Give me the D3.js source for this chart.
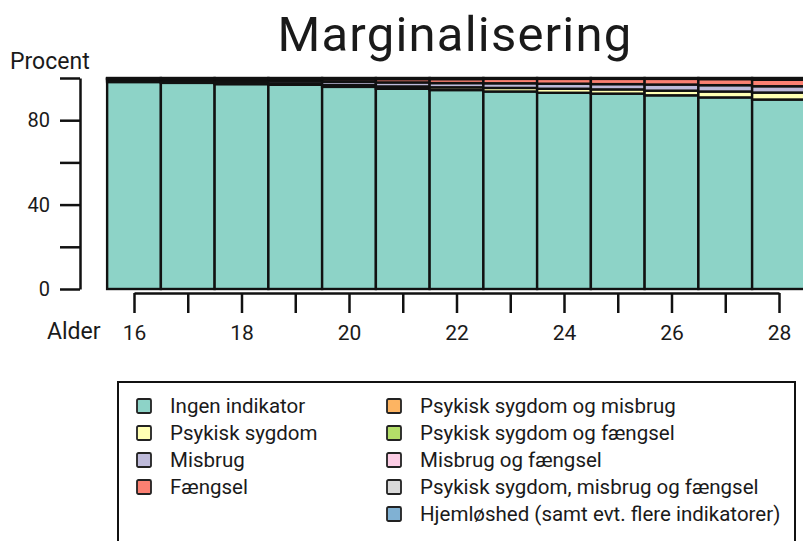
<!DOCTYPE html>
<html>
<head>
<meta charset="utf-8">
<script src="https://cdn.jsdelivr.net/npm/d3@7"></script>
<style>
body { margin: 0; background: #fff; }
svg { display: block; font-family: Roboto, "Noto Sans", sans-serif; }
.lbl { fill: #1a1a1a; }
</style>
</head>
<body>
<svg id="chart" width="803" height="541"></svg>
<script>
// alder 16-28, procent i hver gruppe
var ages = [16, 17, 18, 19, 20, 21, 22, 23, 24, 25, 26, 27, 28];
var ingen      = [98.1, 97.7, 97.1, 96.8, 95.8, 94.9, 94.3, 93.6, 93.0, 92.6, 91.8, 90.8, 89.8];
var psyk       = [0.4, 0.5, 0.6, 0.7, 0.9, 1.1, 1.3, 1.7, 1.9, 2.0, 2.2, 2.8, 3.3];
var misbrug    = [0.6, 0.8, 1.1, 1.2, 1.5, 1.9, 2.0, 2.2, 2.4, 2.5, 2.9, 3.0, 3.0];
var faengsel   = [0.3, 0.4, 0.6, 0.7, 1.2, 1.6, 1.9, 2.1, 2.3, 2.5, 2.7, 2.9, 3.1];
var psyk_mis   = [0.2, 0.2, 0.2, 0.2, 0.2, 0.1, 0.1, 0.1, 0.1, 0.1, 0.1, 0.1, 0.2];
var psyk_fae   = [0.1, 0.1, 0.1, 0.1, 0.1, 0.1, 0.1, 0.05, 0.05, 0.05, 0.05, 0.1, 0.1];
var mis_fae    = [0.1, 0.1, 0.1, 0.1, 0.1, 0.1, 0.1, 0.1, 0.1, 0.1, 0.1, 0.1, 0.2];
var alle_tre   = [0.1, 0.1, 0.1, 0.1, 0.1, 0.1, 0.1, 0.05, 0.05, 0.05, 0.05, 0.1, 0.1];
var hjemloes   = [0.1, 0.1, 0.1, 0.1, 0.1, 0.1, 0.1, 0.1, 0.1, 0.1, 0.1, 0.1, 0.2];

var categories = ["Ingen indikator", "Psykisk sygdom", "Misbrug", "Fængsel",
	"Psykisk sygdom og misbrug", "Psykisk sygdom og fængsel", "Misbrug og fængsel",
	"Psykisk sygdom, misbrug og fængsel", "Hjemløshed (samt evt. flere indikatorer)"];
var colors = ["#8dd3c7", "#ffffb3", "#bebada", "#fb8072", "#fdb462", "#b3de69", "#fccde5", "#d9d9d9", "#80b1d3"];
var yticks = [0, 20, 40, 60, 80, 100];
var ylabels = [0, 40, 80];
var xlabels = [16, 18, 20, 22, 24, 26, 28];

var series = [ingen, psyk, misbrug, faengsel, psyk_mis, psyk_fae, mis_fae, alle_tre, hjemloes];

var rows = ages.map(function(a, i) {
	var r = {age: a};
	categories.forEach(function(c, j) { r[c] = series[j][i]; });
	return r;
});

var svg = d3.select("#chart");

var step = (779 - 134) / 12;
var xpos = d3.scaleLinear().domain([16, 28]).range([134, 779]);
var xband = d3.scaleBand().domain(ages).range([134 - step/2, 779 + step/2]).padding(0);
var y = d3.scaleLinear().domain([0, 100]).range([289, 78]);
var color = d3.scaleOrdinal().domain(categories).range(colors);

var stacked = d3.stack().keys(categories)(rows);

// title
svg.append("text")
	.attr("class", "lbl")
	.attr("x", 455).attr("y", 51)
	.attr("text-anchor", "middle")
	.style("font-size", "49px")
	.style("letter-spacing", "1.2px")
	.text("Marginalisering");

// bars
var layer = svg.append("g").selectAll("g")
	.data(stacked).enter().append("g")
	.attr("fill", function(d) { return color(d.key); });

layer.selectAll("rect")
	.data(function(d) { return d; }).enter().append("rect")
	.attr("x", function(d) { return xband(d.data.age); })
	.attr("width", xband.bandwidth())
	.attr("y", function(d) { return y(d[1]); })
	.attr("height", function(d) { return y(d[0]) - y(d[1]); })
	.attr("stroke", "#111")
	.attr("stroke-width", 2.4);

// y axis
var yaxis = svg.append("g")
	.attr("transform", "translate(80,0)")
	.call(d3.axisLeft(y).tickValues(yticks).tickSize(20).tickSizeOuter(0).tickPadding(10)
		.tickFormat(function(d) { return ylabels.indexOf(d) >= 0 ? d : ""; }));
yaxis.selectAll("path, line").attr("stroke", "#111").attr("stroke-width", 2.5);
yaxis.selectAll("text").attr("class", "lbl").style("font-size", "20px").style("font-family", "Roboto");

svg.append("text")
	.attr("class", "lbl")
	.attr("x", 10).attr("y", 69)
	.style("font-size", "23px")
	.text("Procent");

// x axis
var xaxis = svg.append("g")
	.attr("transform", "translate(0,293)")
	.call(d3.axisBottom(xpos).tickValues(ages).tickSize(20).tickSizeOuter(0).tickPadding(12)
		.tickFormat(function(d) { return xlabels.indexOf(d) >= 0 ? d : ""; }));
xaxis.selectAll("path, line").attr("stroke", "#111").attr("stroke-width", 2.5);
xaxis.selectAll("text").attr("class", "lbl").style("font-size", "21px").style("font-family", "Roboto");

svg.append("text")
	.attr("class", "lbl")
	.attr("x", 47).attr("y", 339)
	.style("font-size", "23px")
	.text("Alder");

// legend
svg.append("rect")
	.attr("x", 118).attr("y", 382)
	.attr("width", 677).attr("height", 200)
	.attr("fill", "none")
	.attr("stroke", "#111")
	.attr("stroke-width", 2);

var leg = svg.append("g").selectAll("g")
	.data(categories).enter().append("g")
	.attr("transform", function(d, i) {
		var col = i < 4 ? 0 : 1;
		var row = i < 4 ? i : i - 4;
		return "translate(" + (col == 0 ? 137 : 387) + "," + (406 + row * 27) + ")";
	});

leg.append("rect")
	.attr("x", 0).attr("y", -7)
	.attr("width", 14).attr("height", 14)
	.attr("rx", 1.5)
	.attr("fill", function(d) { return color(d); })
	.attr("stroke", "#222")
	.attr("stroke-width", 1.8);

leg.append("text")
	.attr("class", "lbl")
	.attr("x", 33).attr("y", 0)
	.attr("dy", ".35em")
	.style("font-size", "20.5px")
	.text(function(d) { return d; });
</script>
</body>
</html>
